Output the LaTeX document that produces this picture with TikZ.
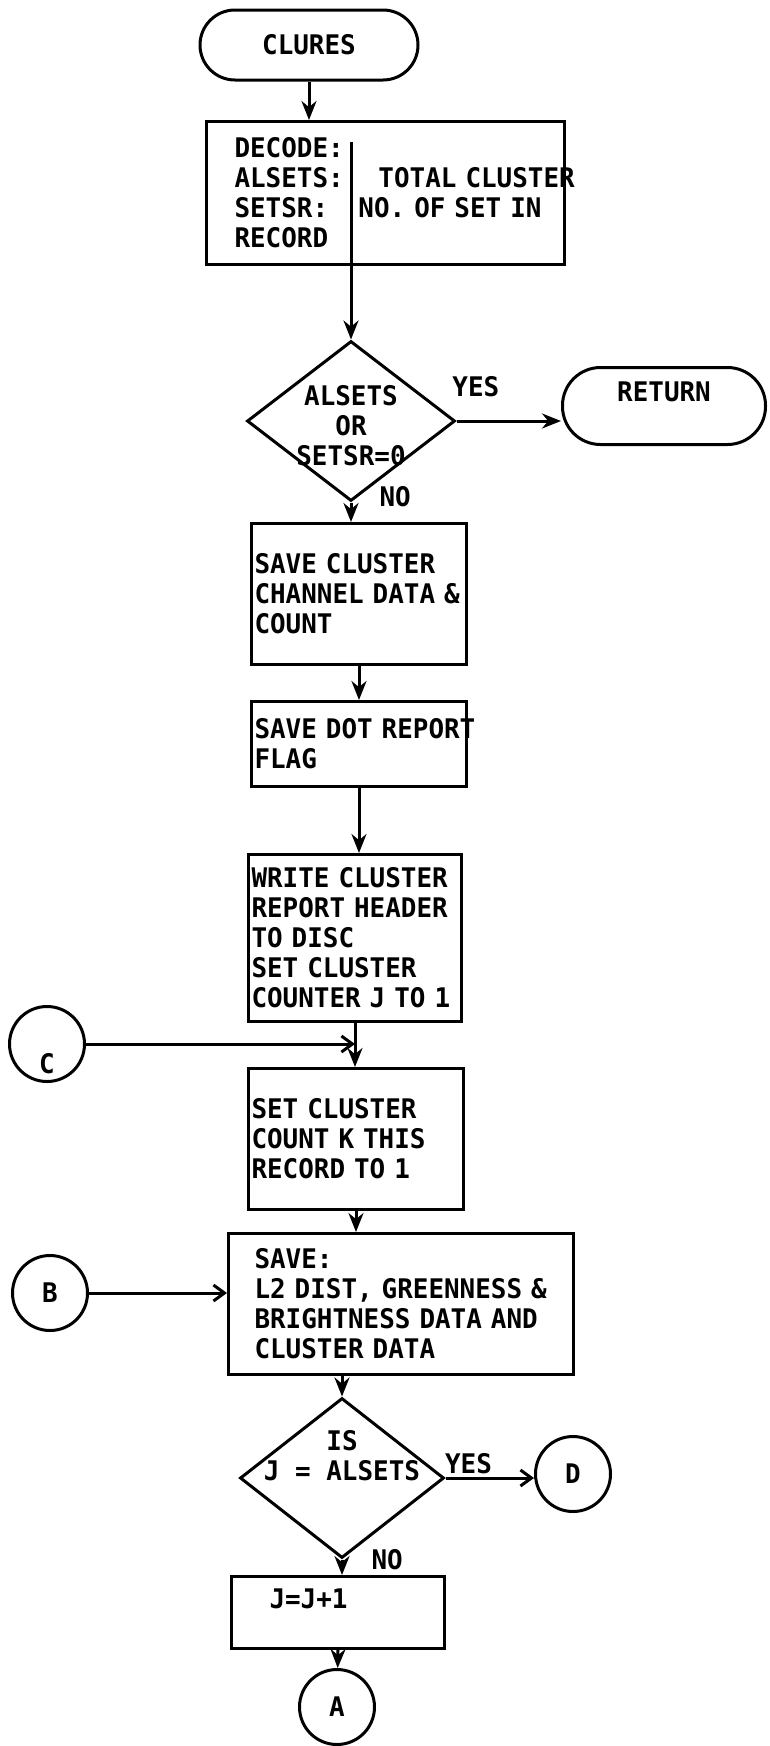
\documentclass[tikz,border=0pt]{standalone}
\usepackage{fontspec}
\newfontfamily\chartfont[FakeStretch=0.96]{DejaVu Sans Mono}
\usetikzlibrary{arrows.meta,shapes.geometric}
\newcommand{\dialines}[2]{\makebox[0pt]{\raisebox{#1}[0pt][0pt]{\begin{tabular}{@{}c@{}}#2\end{tabular}}}}
\hyphenpenalty=10000
\exhyphenpenalty=10000

\begin{document}
\begin{tikzpicture}[
    x=1pt, y=-1pt, line width=3pt,
    font=\chartfont\bfseries\fontsize{27}{30}\selectfont,
    term/.style={rectangle, draw, rounded corners=35pt, minimum height=70pt},
    proc/.style={rectangle, draw, anchor=north west, align=left, inner xsep=3pt, inner ysep=0pt},
    decision/.style={diamond, draw, inner sep=0pt, minimum width=208pt, minimum height=160pt},
    conn/.style={circle, draw, inner sep=0pt, minimum size=75pt},
    tag/.style={inner sep=0pt},
    flow/.style={-{Stealth[length=19pt,width=15pt]}},
    link/.style={-{Straight Barb[length=11pt,width=16pt]}}
]
    \useasboundingbox (0,0) rectangle (769,1746);
    \node[term, minimum width=218pt] (clures) at (309,45) {CLURES};
    \node[proc, inner xsep=28pt, text width=302pt, minimum height=143pt] (decode) at (205,120) {DECODE:\\\makebox[144pt][l]{ALSETS:}TOTAL~CLUSTER\\\makebox[124pt][l]{SETSR:}NO.~OF~SET~IN\\RECORD};
    \coordinate (split) at (351,142);
    \node[decision] (alsets) at (351,421) {\dialines{-15pt}{ALSETS\\OR\\SETSR=0}};
    \node[term, minimum width=203pt, minimum height=77pt, rounded corners=38pt, text depth=28pt] (ret) at (664,406) {RETURN};
    \node[proc, text width=209pt, minimum height=141pt] (savech) at (250,522) {SAVE~CLUSTER\\CHANNEL~DATA~\&\\COUNT};
    \node[proc, text width=209pt, minimum height=85pt] (savedot) at (250,700) {SAVE~DOT~REPORT\\FLAG};
    \node[proc, text width=207pt, minimum height=167pt] (writehdr) at (247,853) {WRITE~CLUSTER\\REPORT~HEADER\\TO~DISC\\SET~CLUSTER\\COUNTER~J~TO~1};
    \node[conn] (cnode) at (47,1044) {\raisebox{-29pt}[0pt][0pt]{C}};
    \coordinate (cjoin) at (writehdr.south |- cnode.east);
    \node[proc, text width=209pt, minimum height=141pt] (setk) at (247,1067) {SET~CLUSTER\\COUNT~K~THIS\\RECORD~TO~1};
    \node[proc, inner xsep=26pt, text width=293pt, minimum height=141pt] (savedat) at (227,1232) {SAVE:\\L2~DIST,~GREENNESS~\&\\BRIGHTNESS~DATA~AND\\CLUSTER~DATA};
    \node[conn] (bnode) at (50,1293) {B};
    \node[decision, minimum width=204pt] (isj) at (342,1478) {\dialines{12pt}{IS\\J = ALSETS}};
    \node[conn] (dnode) at (573,1474) {D};
    \node[proc, inner xsep=38pt, text width=137pt, minimum height=72pt, text depth=28pt] (incj) at (230,1575) {J=J+1};
    \node[conn] (anode) at (337,1707) {A};

    \draw[flow] (clures.south) -- (clures.south |- decode.north);
    \draw[flow] (split) -- (alsets.north);
    \draw[flow] (alsets.east) -- (alsets.east -| ret.west) node[tag, pos=0.185, above=23pt] (yes1) {YES};
    \draw[flow] (alsets.south) -- (alsets.south |- savech.north) node[tag, pos=0, anchor=west, xshift=27pt, yshift=6pt] (no1) {NO};
    \draw[flow] (savech) -- (savedot);
    \draw[flow] (savedot.south) -- (savedot.south |- writehdr.north);
    \draw[flow] (writehdr.south) -- (writehdr.south |- setk.north);
    \draw[link] (cnode.east) -- (cjoin);
    \draw[flow] (setk.south) -- (setk.south |- savedat.north);
    \draw[link] (bnode.east) -- (bnode.east -| savedat.west);
    \draw[flow] (isj.north |- savedat.south) -- (isj.north);
    \draw[link] (isj.east) -- (isj.east -| dnode.west) node[tag, pos=0.26, above=3pt] (yes2) {YES};
    \draw[flow] (isj.south) -- (isj.south |- incj.north) node[tag, pos=0, anchor=west, xshift=28pt] (no2) {NO};
    \draw[flow] (incj.south) -- (anode);
\end{tikzpicture}
\end{document}
